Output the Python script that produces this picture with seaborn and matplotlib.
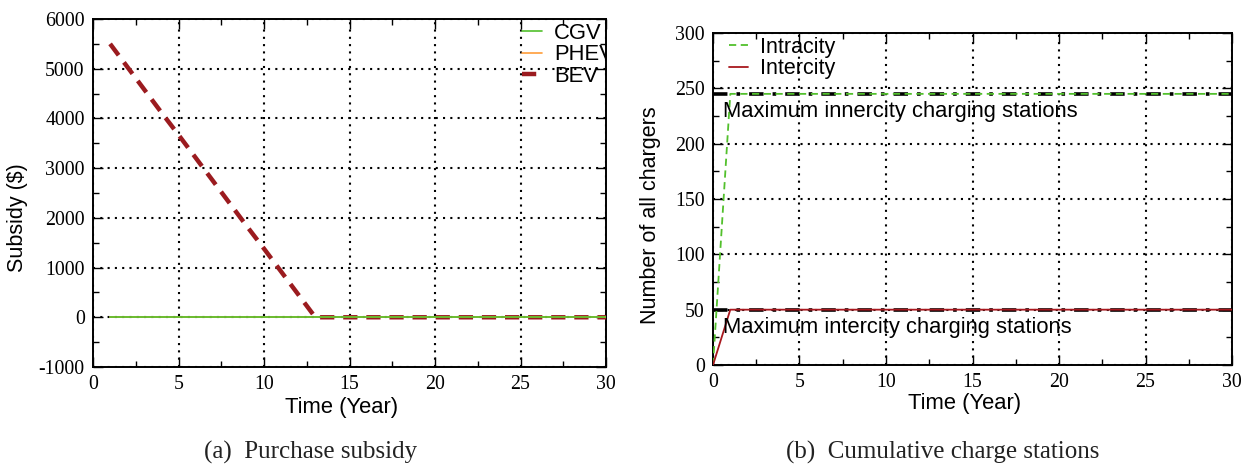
import numpy as np
import pandas as pd
import matplotlib
matplotlib.use("Agg")
import matplotlib.pyplot as plt
from matplotlib.ticker import MultipleLocator
import seaborn as sns

# ---------------- data ----------------
years_a = list(range(1, 31))
cgv_subsidy = [0] * 30
phev_subsidy = [0] * 30
bev_subsidy = [5500, 5040, 4580, 4120, 3670, 3210, 2750, 2290, 1830, 1380, 920, 460, 0,
               0, 0, 0, 0, 0, 0, 0, 0, 0, 0, 0, 0, 0, 0, 0, 0, 0]

years_b = [0, 1, 30]
intracity = [0, 245, 245]
intercity = [0, 50, 50]
max_years = [0, 30]
max_intracity = [245, 245]
max_intercity = [50, 50]

xticks = [0, 5, 10, 15, 20, 25, 30]
yticks_a = [-1000, 0, 1000, 2000, 3000, 4000, 5000, 6000]
yticks_b = [0, 50, 100, 150, 200, 250, 300]

# ---------------- style ----------------
sns.set_style("ticks")
plt.rcParams['font.family'] = ['Liberation Sans', 'DejaVu Sans']
plt.rcParams['axes.unicode_minus'] = False
for k in ['text.color', 'axes.labelcolor', 'xtick.color', 'ytick.color',
          'xtick.labelcolor', 'ytick.labelcolor', 'legend.labelcolor']:
    plt.rcParams[k] = 'black'

W, H = 1253, 471
fig = plt.figure(figsize=(W / 100, H / 100), dpi=100)

def ax_rect(l, t, r, b):
    return [l / W, 1 - b / H, (r - l) / W, (b - t) / H]

ax1 = fig.add_axes(ax_rect(93, 19, 606, 367))
ax2 = fig.add_axes(ax_rect(713, 33, 1232, 365))

GREEN = "#52c02c"
ORANGE = "#ff9d3a"
DRED = "#9b1b1f"
RED2 = "#a8181e"

df_a = pd.DataFrame({"t": years_a, "CGV": cgv_subsidy, "PHEV": phev_subsidy, "BEV": bev_subsidy})

sns.lineplot(data=df_a, x="t", y="BEV", ax=ax1, color=DRED, lw=3.2,
             linestyle=(0, (3.2, 2.0)), label="BEV", zorder=3)
sns.lineplot(data=df_a, x="t", y="PHEV", ax=ax1, color=ORANGE, lw=1.2, label="PHEV", zorder=4)
sns.lineplot(data=df_a, x="t", y="CGV", ax=ax1, color=GREEN, lw=1.2, label="CGV", zorder=5)

df_b = pd.DataFrame({"t": years_b, "intra": intracity, "inter": intercity})
df_m = pd.DataFrame({"t": max_years, "mi": max_intracity, "me": max_intercity})

sns.lineplot(data=df_m, x="t", y="mi", ax=ax2, color="black", lw=2.6,
             linestyle=(0, (4, 2.5, 1, 2.5)), zorder=3, legend=False)
sns.lineplot(data=df_m, x="t", y="me", ax=ax2, color="black", lw=2.6,
             linestyle=(0, (4, 2.5, 1, 2.5)), zorder=3, legend=False)
sns.lineplot(data=df_b, x="t", y="intra", ax=ax2, color=GREEN, lw=1.3,
             linestyle=(0, (4, 2.5)), label="Intracity", zorder=4)
sns.lineplot(data=df_b, x="t", y="inter", ax=ax2, color=RED2, lw=1.3,
             label="Intercity", zorder=4)

serif = ['Liberation Serif', 'DejaVu Serif']

for ax, yt, ylim, yminor in [(ax1, yticks_a, (-1000, 6000), 500), (ax2, yticks_b, (0, 300), 25)]:
    ax.set_xlim(0, 30)
    ax.set_ylim(*ylim)
    ax.set_xticks(xticks)
    ax.set_yticks(yt)
    ax.xaxis.set_minor_locator(MultipleLocator(2.5))
    ax.yaxis.set_minor_locator(MultipleLocator(yminor))
    ax.tick_params(which='both', direction='in', top=True, right=True, color='black', width=1.0)
    ax.tick_params(which='major', length=7, labelsize=14.3, pad=6, labelcolor='black')
    ax.tick_params(which='minor', length=4)
    for lab in ax.get_xticklabels() + ax.get_yticklabels():
        lab.set_family(serif)
    ax.grid(True, which='major', color='black', linestyle=(0, (1, 2.5)), lw=1.5)
    for s in ax.spines.values():
        s.set_visible(True)
        s.set_color('black')
        s.set_linewidth(1.4)
    ax.set_xlabel("")
    ax.set_ylabel("")

# legends
h, l = ax1.get_legend_handles_labels()
order = [l.index("CGV"), l.index("PHEV"), l.index("BEV")]
leg1 = ax1.legend([h[i] for i in order], [l[i] for i in order], loc='upper left',
                  bbox_to_anchor=((522 - 93) / 513, (367 - 23) / 348), frameon=False,
                  fontsize=15.8, handlelength=0.9, handletextpad=0.55, labelspacing=0.02,
                  borderpad=0, borderaxespad=0)
for t in leg1.get_texts():
    t.set_clip_on(True)
    t.set_clip_box(ax1.bbox)

h2, l2 = ax2.get_legend_handles_labels()
ax2.legend(h2, l2, loc='upper left', bbox_to_anchor=((729 - 713) / 519, (365 - 37) / 332),
           frameon=False, fontsize=15.5, handlelength=0.9, handletextpad=0.55, labelspacing=0.02,
           borderpad=0, borderaxespad=0)

# annotations
ax2.text(0.55, 229, "Maximum innercity charging stations", fontsize=15.8, va='center', ha='left',
         color='black', zorder=6)
ax2.text(0.55, 34, "Maximum intercity charging stations", fontsize=15.8, va='center', ha='left',
         color='black', zorder=6)

# axis labels & captions in figure pixels
def fx(x):
    return x / W

def fy(y):
    return 1 - y / H

fig.text(fx(342), fy(407), "Time (Year)", fontsize=15.8, ha='center', va='center')
fig.text(fx(965), fy(404), "Time (Year)", fontsize=15.8, ha='center', va='center')
fig.text(fx(18), fy(218), "Subsidy ($)", fontsize=15.5, ha='center', va='center', rotation=90)
fig.text(fx(651), fy(215), "Number of all chargers", fontsize=15.5, ha='center', va='center', rotation=90)
fig.text(fx(311), fy(452), "(a)  Purchase subsidy", fontsize=18, ha='center', va='center',
         family=serif, color='#222222')
fig.text(fx(943), fy(452), "(b)  Cumulative charge stations", fontsize=18, ha='center', va='center',
         family=serif, color='#222222')

fig.savefig("out.png", dpi=100)
